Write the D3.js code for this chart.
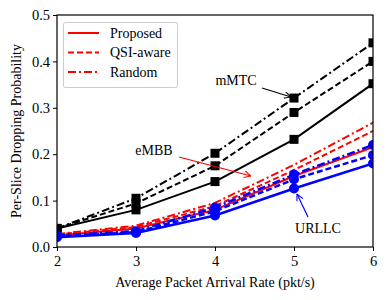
<!DOCTYPE html>
<html>
<head>
<meta charset="utf-8">
<script src="https://cdn.jsdelivr.net/npm/d3@7"></script>
<style>
  body { margin: 0; background: #fff; }
  text { font-family: "Liberation Serif", "Times New Roman", serif; }
</style>
</head>
<body>
<div id="plot"></div>
<script>
var rates = [2, 3, 4, 5, 6];

// mMTC (black, squares)
var mmtcProposed = [0.040, 0.080, 0.141, 0.232, 0.352];
var mmtcQsi = [0.040, 0.094, 0.175, 0.290, 0.400];
var mmtcRandom = [0.040, 0.105, 0.202, 0.321, 0.440];

// eMBB (red, no markers)
var embbProposed = [0.025, 0.040, 0.080, 0.153, 0.215];
var embbQsi = [0.027, 0.043, 0.088, 0.166, 0.250];
var embbRandom = [0.028, 0.046, 0.095, 0.177, 0.268];

// URLLC (blue, circles)
var urllcProposed = [0.021, 0.030, 0.068, 0.126, 0.180];
var urllcQsi = [0.023, 0.032, 0.077, 0.146, 0.198];
var urllcRandom = [0.025, 0.034, 0.085, 0.156, 0.220];

var yTicks = [0.0, 0.1, 0.2, 0.3, 0.4, 0.5];
var legendLabels = ['Proposed', 'QSI-aware', 'Random'];

var width = 388, height = 300;
var margin = {left: 57, right: 15, top: 15, bottom: 53};

var svg = d3.select('#plot')
    .append('svg')
    .attr('width', width)
    .attr('height', height);

var x = d3.scaleLinear().domain([2, 6]).range([margin.left, width - margin.right]);
var y = d3.scaleLinear().domain([0, 0.5]).range([height - margin.bottom, margin.top]);

var dashes = {
    solid: null,
    dashed: '6,3',
    dashdot: '8,3,2,3'
};

var series = [
    {v: mmtcRandom, color: '#000', dash: 'dashdot', marker: 'square', w: 2},
    {v: mmtcQsi, color: '#000', dash: 'dashed', marker: 'square', w: 2},
    {v: mmtcProposed, color: '#000', dash: 'solid', marker: 'square', w: 2},
    {v: embbRandom, color: '#ff0000', dash: 'dashdot', marker: null, w: 2},
    {v: embbQsi, color: '#ff0000', dash: 'dashed', marker: null, w: 2},
    {v: embbProposed, color: '#ff0000', dash: 'solid', marker: null, w: 2},
    {v: urllcRandom, color: '#0000ff', dash: 'dashdot', marker: 'circle', w: 2.5},
    {v: urllcQsi, color: '#0000ff', dash: 'dashed', marker: 'circle', w: 2.5},
    {v: urllcProposed, color: '#0000ff', dash: 'solid', marker: 'circle', w: 2.5}
];

var line = d3.line()
    .x(function (d, i) { return x(rates[i]); })
    .y(function (d) { return y(d); });

var plot = svg.append('g');

plot.append('clipPath').attr('id', 'clip')
    .append('rect')
    .attr('x', margin.left).attr('y', margin.top)
    .attr('width', width - margin.left - margin.right)
    .attr('height', height - margin.top - margin.bottom);

var inner = plot.append('g').attr('clip-path', 'url(#clip)');

series.forEach(function (s) {
    inner.append('path')
        .attr('d', line(s.v))
        .attr('fill', 'none')
        .attr('stroke', s.color)
        .attr('stroke-width', s.w)
        .attr('stroke-dasharray', dashes[s.dash]);
    if (s.marker === 'square') {
        inner.selectAll(null).data(s.v).enter().append('rect')
            .attr('x', function (d, i) { return x(rates[i]) - 4.5; })
            .attr('y', function (d) { return y(d) - 4.5; })
            .attr('width', 9).attr('height', 9)
            .attr('fill', s.color);
    } else if (s.marker === 'circle') {
        inner.selectAll(null).data(s.v).enter().append('circle')
            .attr('cx', function (d, i) { return x(rates[i]); })
            .attr('cy', function (d) { return y(d); })
            .attr('r', 5)
            .attr('fill', s.color);
    }
});

// axes
var xAxis = d3.axisBottom(x).tickValues(rates).tickFormat(d3.format('d')).tickSizeOuter(0).tickSize(4);
var yAxis = d3.axisLeft(y).tickValues(yTicks).tickFormat(d3.format('.1f')).tickSizeOuter(0).tickSize(4);

var gx = svg.append('g').attr('transform', 'translate(0,' + (height - margin.bottom) + ')').call(xAxis);
var gy = svg.append('g').attr('transform', 'translate(' + margin.left + ',0)').call(yAxis);
[gx, gy].forEach(function (g) {
    g.select('.domain').remove();
    g.selectAll('line').attr('stroke', '#000').attr('stroke-width', 1);
    g.selectAll('text').attr('font-size', 14.5).attr('fill', '#000')
        .style('font-family', '"Liberation Serif", serif');
});
gx.selectAll('text').attr('dy', '0.85em');

svg.append('rect')
    .attr('x', margin.left).attr('y', margin.top)
    .attr('width', width - margin.left - margin.right)
    .attr('height', height - margin.top - margin.bottom)
    .attr('fill', 'none')
    .attr('stroke', '#000')
    .attr('stroke-width', 1.2);

// axis labels
svg.append('text')
    .attr('x', (margin.left + width - margin.right) / 2)
    .attr('y', 287)
    .attr('text-anchor', 'middle')
    .attr('font-size', 14)
    .text('Average Packet Arrival Rate (pkt/s)');

svg.append('text')
    .attr('transform', 'translate(21,' + ((margin.top + height - margin.bottom) / 2) + ') rotate(-90)')
    .attr('text-anchor', 'middle')
    .attr('font-size', 14)
    .text('Per-Slice Dropping Probability');

// legend
var legend = svg.append('g');
legend.append('rect')
    .attr('x', 63.5).attr('y', 22.5)
    .attr('width', 114).attr('height', 65)
    .attr('rx', 2)
    .attr('fill', '#fff')
    .attr('stroke', '#ccc');
['solid', 'dashed', 'dashdot'].forEach(function (d, i) {
    var ly = 33 + i * 19.5;
    legend.append('line')
        .attr('x1', 68).attr('x2', 99)
        .attr('y1', ly).attr('y2', ly)
        .attr('stroke', '#ff0000')
        .attr('stroke-width', 2)
        .attr('stroke-dasharray', dashes[d]);
    legend.append('text')
        .attr('x', 110).attr('y', ly)
        .attr('dy', '0.35em')
        .attr('font-size', 14)
        .text(legendLabels[i]);
});

// annotations
svg.append('defs').selectAll('marker')
    .data([['ah-k', '#000'], ['ah-r', '#ff0000'], ['ah-b', '#0000ff']])
    .enter().append('marker')
    .attr('id', function (d) { return d[0]; })
    .attr('viewBox', '0 0 10 10')
    .attr('refX', 10).attr('refY', 5)
    .attr('markerWidth', 7).attr('markerHeight', 7)
    .attr('markerUnits', 'userSpaceOnUse')
    .attr('orient', 'auto')
    .append('path')
    .attr('d', 'M0,0 L10,5 L0,10')
    .attr('fill', 'none')
    .attr('stroke', function (d) { return d[1]; })
    .attr('stroke-width', 1.5);

function note(label, tx, ty, ax1, ay1, ax2, ay2, color, id) {
    svg.append('text')
        .attr('x', tx).attr('y', ty)
        .attr('dy', '0.35em')
        .attr('text-anchor', 'middle')
        .attr('font-size', 14)
        .text(label);
    svg.append('line')
        .attr('x1', ax1).attr('y1', ay1)
        .attr('x2', ax2).attr('y2', ay2)
        .attr('stroke', color)
        .attr('stroke-width', 1.2)
        .attr('marker-end', 'url(#' + id + ')');
}

note('mMTC', 236, 80, 262, 88, 291, 97, '#000', 'ah-k');
note('eMBB', 154, 150, 179, 157, 251, 176, '#ff0000', 'ah-r');
note('URLLC', 318, 228, 308, 217, 297, 194, '#0000ff', 'ah-b');
</script>
</body>
</html>
